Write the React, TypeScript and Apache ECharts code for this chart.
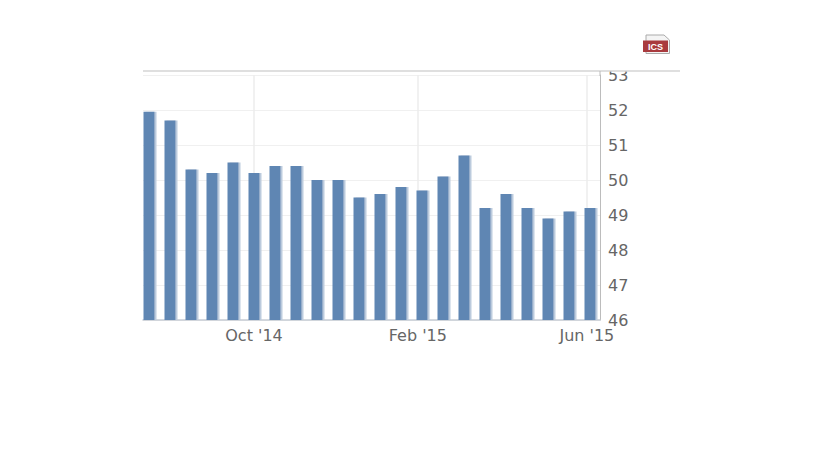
import React, { useEffect, useRef } from "react";
import * as echarts from "echarts";

const values = [51.95, 51.7, 50.3, 50.2, 50.5, 50.2, 50.4, 50.4, 50, 50, 49.5, 49.6, 49.8, 49.7, 50.1, 50.7, 49.2, 49.6, 49.2, 48.9, 49.1, 49.2];
const tickPositions = [5, 12.8, 20.85];
const tickLabels = ["Oct '14", "Feb '15", "Jun '15"];
const FONT = "DejaVu Sans";
const TEXT = "#666666";

export default function App() {
  const ref = useRef<HTMLDivElement>(null);
  useEffect(() => {
    const chart = echarts.init(ref.current!, null, { renderer: "svg" });
    chart.setOption({
      animation: false,
      backgroundColor: "#fff",
      grid: { left: 143, right: 219, top: 75, bottom: 140, containLabel: false },
      xAxis: {
        type: "value",
        min: -0.2857,
        max: 21.476,
        axisLine: { show: true, onZero: false, lineStyle: { color: "#c6ccd4", width: 1.5 } },
        axisTick: { show: false },
        splitLine: { show: false },
        axisLabel: {
          customValues: tickPositions,
          formatter: (v: number) => tickLabels[tickPositions.indexOf(v)] ?? "",
          color: TEXT,
          fontFamily: FONT,
          fontSize: 16,
          margin: 7,
          hideOverlap: false,
        },
      },
      yAxis: {
        type: "value",
        position: "right",
        min: 46,
        max: 53,
        interval: 1,
        axisLine: { show: true, onZero: false, lineStyle: { color: "#bcbcbc", width: 1 } },
        axisTick: { show: false },
        splitLine: { show: true, lineStyle: { color: "#f0f0f0", width: 1 } },
        axisLabel: { color: TEXT, fontFamily: FONT, fontSize: 16, margin: 8 },
      },
      series: [
        {
          type: "bar",
          z: 2,
          barWidth: 11,
          data: values.map((v, i) => [i, v]),
          itemStyle: { color: "#5f86b3", shadowColor: "#bccbdd", shadowOffsetX: 2, shadowOffsetY: 0, shadowBlur: 0 },
          markLine: {
            silent: true,
            z: 1,
            symbol: "none",
            label: { show: false },
            lineStyle: { color: "#ececec", width: 1.5, type: "solid" },
            data: tickPositions.map((x) => ({ xAxis: x })),
          },
        },
      ],
      graphic: [
        { type: "rect", z: 4, shape: { x: 602, y: 58, width: 40, height: 13 }, style: { fill: "#ffffff" } },
        { type: "line", z: 5, shape: { x1: 143, y1: 71, x2: 680, y2: 71 }, style: { stroke: "#d4d4d4", lineWidth: 1.5 } },
        { type: "line", z: 5, shape: { x1: 600, y1: 71, x2: 600, y2: 76 }, style: { stroke: "#bcbcbc", lineWidth: 1 } },
        { type: "polygon", z: 5, shape: { points: [[646, 35], [664, 35], [669.5, 40], [669.5, 53.5], [646, 53.5]] }, style: { fill: "#f4f4f4", stroke: "#aaaaaa", lineWidth: 1 } },
        { type: "rect", z: 6, shape: { x: 643, y: 40.5, width: 25, height: 11.5 }, style: { fill: "#a93a3e" } },
        { type: "text", z: 7, x: 655.5, y: 46.5, style: { text: "ICS", fill: "#ffffff", font: "bold 9px 'Liberation Sans'", align: "center", verticalAlign: "middle" } },
      ],
    });
    return () => chart.dispose();
  }, []);
  return <div ref={ref} style={{ position: "absolute", left: 0, top: 0, width: 819, height: 460 }} />;
}
